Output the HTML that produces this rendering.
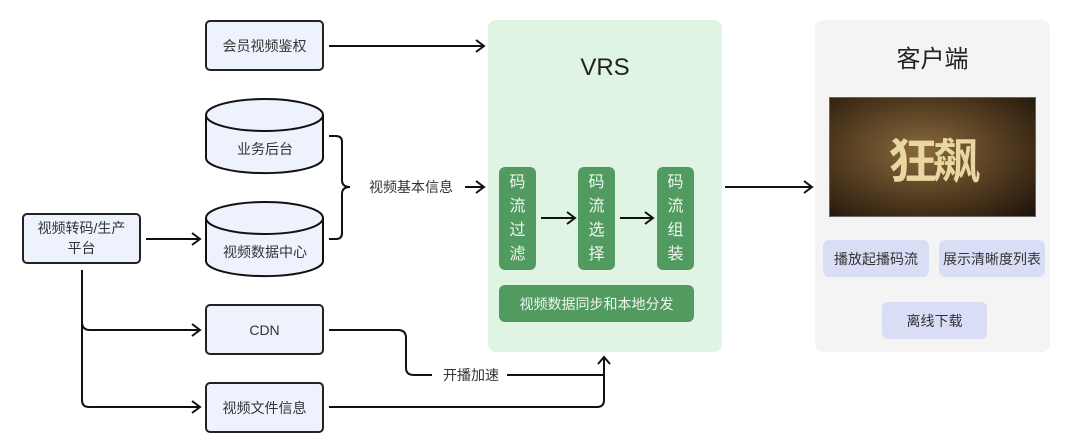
<!DOCTYPE html>
<html><head><meta charset="utf-8"><style>
body{margin:0;width:1080px;height:442px;background:#fff;position:relative;overflow:hidden;font-family:"Liberation Sans","Noto Sans CJK SC",sans-serif;}
.a{position:absolute;box-sizing:border-box;display:flex;align-items:center;justify-content:center;text-align:center;}
.box{border:2px solid #222;border-radius:5px;background:#eef2fc;font-size:14px;color:#333;}
.g{background:#519a60;border-radius:6px;font-size:15px;color:#f0f6f0;}
.b{background:#d9ddf6;border-radius:6px;font-size:14px;color:#333;}
</style></head><body>
<div class="a" style="left:488px;top:20px;width:234px;height:332px;background:#dff4e3;border-radius:8px;"></div>
<div class="a" style="left:815px;top:20px;width:235px;height:332px;background:#f4f4f4;border-radius:8px;"></div>
<div class="a" style="left:488px;top:50px;width:234px;height:36px;font-size:24px;color:#222;">VRS</div>
<div class="a" style="left:815px;top:38px;width:235px;height:36px;font-size:24px;color:#222;">客户端</div>
<div class="a" style="left:829px;top:97px;width:207px;height:120px;background:radial-gradient(ellipse at 45% 45%,#8a6a3c,#3a2814 75%,#1a120a);border:1px solid #666;">
<span style="font-size:48px;font-weight:bold;color:#e8d7a0;letter-spacing:-4px;">狂飙</span></div>
<div class="a g" style="left:499px;top:167px;width:37px;height:103px;line-height:1.5;font-size:16px;">码<br>流<br>过<br>滤</div>
<div class="a g" style="left:578px;top:167px;width:37px;height:103px;line-height:1.5;font-size:16px;">码<br>流<br>选<br>择</div>
<div class="a g" style="left:657px;top:167px;width:37px;height:103px;line-height:1.5;font-size:16px;">码<br>流<br>组<br>装</div>
<div class="a g" style="left:499px;top:285px;width:195px;height:37px;font-size:14px;">视频数据同步和本地分发</div>
<div class="a b" style="left:823px;top:240px;width:106px;height:37px;">播放起播码流</div>
<div class="a b" style="left:939px;top:240px;width:106px;height:37px;">展示清晰度列表</div>
<div class="a b" style="left:882px;top:302px;width:105px;height:37px;">离线下载</div>
<div class="a box" style="left:205px;top:20px;width:119px;height:51px;">会员视频鉴权</div>
<div class="a box" style="left:22px;top:213px;width:119px;height:51px;line-height:1.4;">视频转码/生产<br>平台</div>
<div class="a box" style="left:205px;top:304px;width:119px;height:51px;">CDN</div>
<div class="a box" style="left:205px;top:382px;width:119px;height:51px;">视频文件信息</div>
<svg style="position:absolute;left:0;top:0" width="1080" height="442" fill="none" stroke="#111" stroke-width="2">
<g fill="#eef2fc">
<path d="M206 115 V158 A58 15 0 0 0 323 158 V115"/><ellipse cx="264.5" cy="115" rx="58.5" ry="16"/>
<path d="M206 218 V261 A58 15 0 0 0 323 261 V218"/><ellipse cx="264.5" cy="218" rx="58.5" ry="16"/>
</g>
<path d="M329 46 H483 M476 40 L484 46 L476 52"/>
<path d="M329 136 H336 Q342 136 342 142 V180 Q342 187 350 187 Q342 187 342 194 V233 Q342 239 336 239 H329"/>
<path d="M465 187 H483 M476 181 L484 187 L476 193"/>
<path d="M541 218 H574 M567 212 L575 218 L567 224"/>
<path d="M620 218 H652 M645 212 L653 218 L645 224"/>
<path d="M146 239 H199 M192 233 L200 239 L192 245"/>
<path d="M82 270 V400 Q82 407 89 407 H199 M192 401 L200 407 L192 413"/>
<path d="M82 322 Q82 330 90 330 H199 M192 324 L200 330 L192 336"/>
<path d="M329 330 H398 Q406 330 406 338 V368 Q406 375 414 375 H432"/>
<path d="M507 375 H603"/>
<path d="M329 407 H597 Q604 407 604 400 V358 M598 364 L604 357 L610 364"/>
<path d="M725 187 H811 M804 181 L812 187 L804 193"/>
</svg>
<div class="a" style="left:362px;top:177px;width:98px;height:20px;font-size:14px;color:#333;">视频基本信息</div>
<div class="a" style="left:436px;top:365px;width:70px;height:20px;font-size:14px;color:#333;">开播加速</div>
<div class="a" style="left:220px;top:139px;width:90px;height:20px;font-size:14px;color:#333;">业务后台</div>
<div class="a" style="left:210px;top:242px;width:110px;height:20px;font-size:14px;color:#333;">视频数据中心</div>
</body></html>
